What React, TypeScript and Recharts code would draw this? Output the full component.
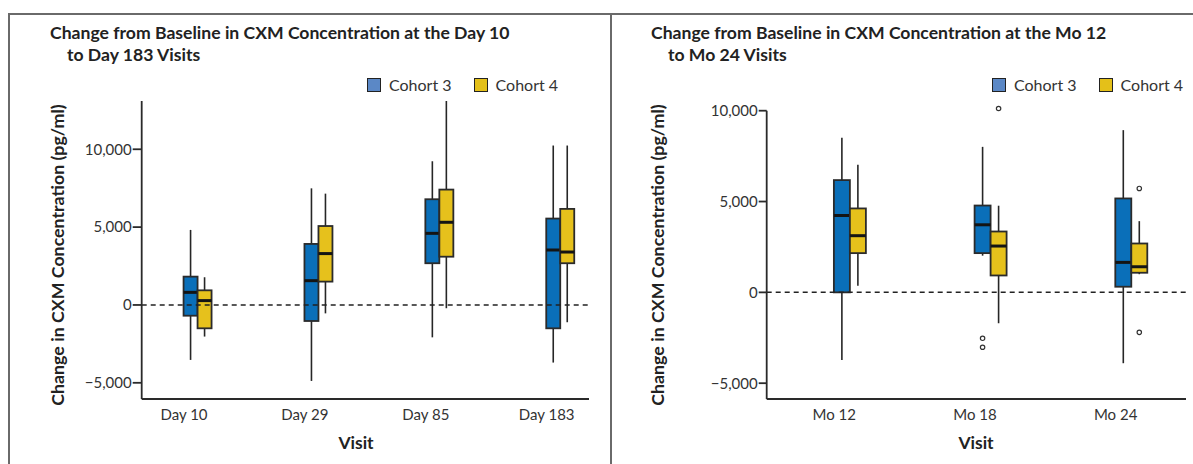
import { ComposedChart, Bar, XAxis, YAxis, ReferenceLine } from 'recharts';

const leftVisits = ['Day 10', 'Day 29', 'Day 85', 'Day 183'];
const rightVisits = ['Mo 12', 'Mo 18', 'Mo 24'];

// [min, q1, median, q3, max] per visit
const leftCohort3 = [
  [-3530, -690, 810, 1820, 4820],
  [-4880, -1030, 1560, 3920, 7490],
  [-2080, 2680, 4600, 6790, 9230],
  [-3700, -1500, 3530, 5550, 10240],
];
const leftCohort4 = [
  [-2030, -1500, 280, 940, 1780],
  [-540, 1500, 3300, 5070, 7150],
  [-210, 3100, 5310, 7410, 13100],
  [-1110, 2680, 3400, 6170, 10240],
];
const rightCohort3 = [
  [-3720, 0, 4230, 6180, 8510],
  [2020, 2160, 3720, 4780, 8010],
  [-3900, 310, 1650, 5170, 8930],
];
const rightCohort4 = [
  [370, 2160, 3120, 4620, 7020],
  [-1700, 930, 2550, 3350, 4770],
  [1000, 1080, 1410, 2690, 3920],
];
const rightOutliers3 = [[], [-2530, -3020], []];
const rightOutliers4 = [[], [10120], [5720, -2200]];

const yTicks = [-5000, 0, 5000, 10000];

const BLUE = '#0a6fb9';
const YELLOW = '#e6c11c';
const LEGEND_BLUE = '#5b88c6';
const LEGEND_YELLOW = '#e4c019';
const INK = '#262626';
const FONT = 'Lato, "Open Sans", sans-serif';

type Stats = { min: number; q1: number; med: number; q3: number; max: number; out: number[] };

const toStats = (v: number[], out: number[] = []): Stats => ({
  min: v[0], q1: v[1], med: v[2], q3: v[3], max: v[4], out,
});

const leftData = leftVisits.map((visit, i) => ({
  pos: i,
  visit,
  c3: toStats(leftCohort3[i]),
  c4: toStats(leftCohort4[i]),
}));

const rightData = rightVisits.map((visit, i) => ({
  pos: i,
  visit,
  c3: toStats(rightCohort3[i], rightOutliers3[i]),
  c4: toStats(rightCohort4[i], rightOutliers4[i]),
}));

const fmt = (v: number) => (v < 0 ? '\u2212' : '') + Math.abs(v).toLocaleString('en-US');

// box drawn inside the [min, max] range bar; shifted one bar width right so cohort 3 starts at the tick
const makeBox = (key: 'c3' | 'c4', fill: string) => (props: any) => {
  const { x, y, width, height, payload } = props;
  const s: Stats = payload[key];
  const py = (v: number) => y + ((s.max - v) / (s.max - s.min)) * height;
  const left = x + width;
  const cx = left + width / 2;
  const top = Math.min(py(s.q3), py(s.q1));
  const bh = Math.abs(py(s.q1) - py(s.q3));
  return (
    <g>
      <line x1={cx} x2={cx} y1={py(s.max)} y2={py(s.q3)} stroke={INK} strokeWidth={1.6} />
      <line x1={cx} x2={cx} y1={py(s.q1)} y2={py(s.min)} stroke={INK} strokeWidth={1.6} />
      <rect x={left} y={top} width={width} height={bh} fill={fill} stroke="#2b2b2b" strokeWidth={1.8} />
      <line x1={left} x2={left + width} y1={py(s.med)} y2={py(s.med)} stroke="#141414" strokeWidth={3} />
      {s.out.map((o, i) => (
        <circle key={i} cx={cx} cy={py(o)} r={2.2} fill="#fff" stroke="#333" strokeWidth={1.2} />
      ))}
    </g>
  );
};

const Legend = ({ left }: { left: number }) => (
  <div style={{ position: 'absolute', left, top: 75, display: 'flex', alignItems: 'center', fontFamily: FONT, fontSize: 16, color: '#333' }}>
    <span style={{ width: 12, height: 12, background: LEGEND_BLUE, border: '1.5px solid #222', marginRight: 8 }} />
    <span style={{ marginRight: 22 }}>Cohort 3</span>
    <span style={{ width: 12, height: 12, background: LEGEND_YELLOW, border: '1.5px solid #222', marginRight: 8 }} />
    <span>Cohort 4</span>
  </div>
);

const Title = ({ left, line1, line2 }: { left: number; line1: string; line2: string }) => (
  <div style={{ position: 'absolute', left, top: 22, fontFamily: FONT, fontWeight: 700, fontSize: 17.6, lineHeight: '22px', color: '#222', whiteSpace: 'nowrap' }}>
    <div>{line1}</div>
    <div style={{ paddingLeft: 17 }}>{line2}</div>
  </div>
);

const yLabel = (cx: number) => () => (
  <text
    x={cx}
    y={255}
    transform={`rotate(-90, ${cx}, 255)`}
    textAnchor="middle"
    dominantBaseline="central"
    fontFamily={FONT}
    fontWeight={700}
    fontSize={17.8}
    fill="#222"
  >
    Change in CXM Concentration (pg/ml)
  </text>
);

const xLabel = (cx: number) => () => (
  <text x={cx} y={449} textAnchor="middle" fontFamily={FONT} fontWeight={700} fontSize={17.5} fill="#222">
    Visit
  </text>
);

const tickStyle = { fontFamily: FONT, fontSize: 15, fill: '#333' };
const axisStroke = { stroke: '#2a2a2a', strokeWidth: 1.8 };

const App = () => {
  return (
    <div style={{ position: 'absolute', left: 0, top: 0, width: 1193, height: 464, background: '#fff', overflow: 'hidden' }}>
      <div style={{ position: 'absolute', left: 8, top: 13, width: 1200, height: 460, borderTop: '2px solid #6a6a6a', borderLeft: '2px solid #6a6a6a' }} />
      <div style={{ position: 'absolute', left: 610, top: 13, width: 2, height: 460, background: '#6a6a6a' }} />

      <Title left={50} line1="Change from Baseline in CXM Concentration at the Day 10" line2="to Day 183 Visits" />
      <Title left={651} line1="Change from Baseline in CXM Concentration at the Mo 12" line2="to Mo 24 Visits" />
      <Legend left={367} />
      <Legend left={992} />

      <div style={{ position: 'absolute', left: 0, top: 0 }}>
        <ComposedChart width={600} height={464} data={leftData} margin={{ top: 101, right: 11, bottom: 25, left: 40 }} barGap={0}>
          <XAxis
            type="number"
            dataKey="pos"
            domain={[-0.35, 3.35]}
            ticks={[0, 1, 2, 3]}
            tickFormatter={(v: number) => leftVisits[v]}
            height={40}
            tickLine={false}
            axisLine={axisStroke}
            tick={tickStyle}
            tickMargin={4}
            label={xLabel(356)}
          />
          <YAxis
            type="number"
            domain={[-6040, 13100]}
            ticks={yTicks}
            tickFormatter={fmt}
            width={101.7}
            tickSize={9}
            tickMargin={1}
            tickLine={axisStroke}
            axisLine={axisStroke}
            tick={tickStyle}
            label={yLabel(57)}
          />
          <ReferenceLine y={0} stroke="#222" strokeWidth={1.5} strokeDasharray="5 4" />
          <Bar dataKey={(d: any) => [d.c3.min, d.c3.max]} barSize={14} fill={BLUE} shape={makeBox('c3', BLUE)} isAnimationActive={false} />
          <Bar dataKey={(d: any) => [d.c4.min, d.c4.max]} barSize={14} fill={YELLOW} shape={makeBox('c4', YELLOW)} isAnimationActive={false} />
        </ComposedChart>
      </div>

      <div style={{ position: 'absolute', left: 612, top: 0 }}>
        <ComposedChart width={581} height={464} data={rightData} margin={{ top: 110.7, right: 7, bottom: 25, left: 20 }} barGap={0}>
          <XAxis
            type="number"
            dataKey="pos"
            domain={[-0.48, 2.5]}
            ticks={[0, 1, 2]}
            tickFormatter={(v: number) => rightVisits[v]}
            height={40}
            tickLine={false}
            axisLine={axisStroke}
            tick={tickStyle}
            tickMargin={4}
            label={xLabel(364)}
          />
          <YAxis
            type="number"
            domain={[-5870, 10000]}
            ticks={yTicks}
            tickFormatter={fmt}
            width={134.7}
            tickSize={8}
            tickMargin={1}
            tickLine={axisStroke}
            axisLine={axisStroke}
            tick={tickStyle}
            label={yLabel(45)}
          />
          <ReferenceLine y={0} stroke="#222" strokeWidth={1.5} strokeDasharray="5 4" />
          <Bar dataKey={(d: any) => [d.c3.min, d.c3.max]} barSize={16} fill={BLUE} shape={makeBox('c3', BLUE)} isAnimationActive={false} />
          <Bar dataKey={(d: any) => [d.c4.min, d.c4.max]} barSize={16} fill={YELLOW} shape={makeBox('c4', YELLOW)} isAnimationActive={false} />
        </ComposedChart>
      </div>
    </div>
  );
};

export default App;
